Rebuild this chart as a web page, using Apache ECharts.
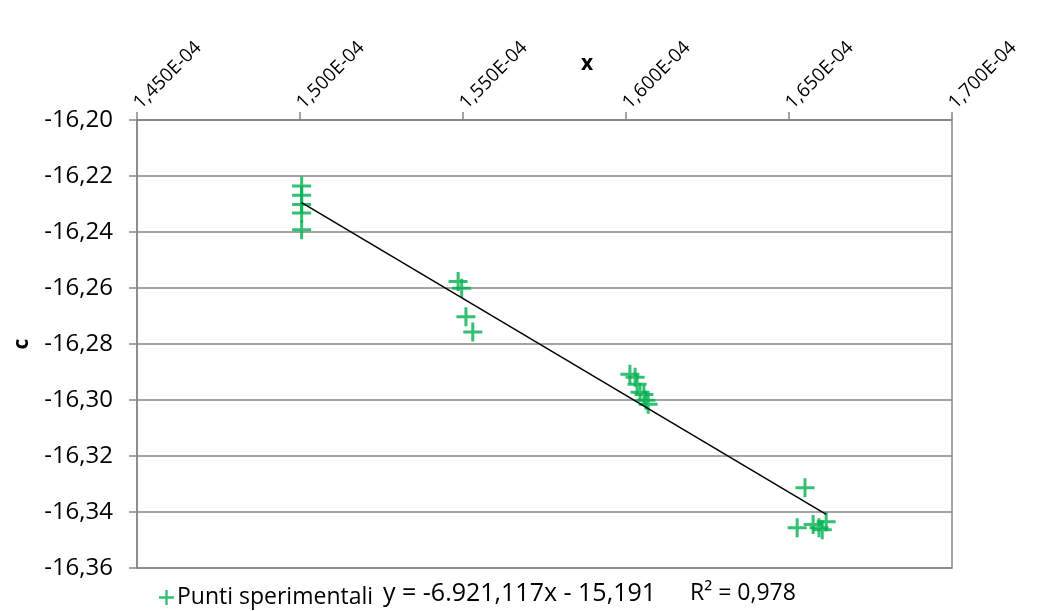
<!DOCTYPE html>
<html>
<head>
<meta charset="utf-8">
<script src="https://cdn.jsdelivr.net/npm/echarts@6/dist/echarts.min.js"></script>
<style>
  html, body { margin: 0; padding: 0; background: #fff; }
  #chart { width: 1040px; height: 611px; }
</style>
</head>
<body>
<div id="chart"></div>
<script>
// Experimental points (x, c)
const xValues = [
  1.5005e-4, 1.5005e-4, 1.5005e-4, 1.5005e-4, 1.5005e-4,
  1.5485e-4, 1.5496e-4, 1.5509e-4, 1.5530e-4,
  1.6012e-4, 1.6028e-4, 1.6034e-4, 1.6043e-4, 1.6055e-4, 1.6061e-4, 1.6068e-4,
  1.6549e-4, 1.6525e-4, 1.6574e-4, 1.6592e-4, 1.6602e-4, 1.6614e-4
];
const cValues = [
  -16.2236, -16.2269, -16.2302, -16.2332, -16.2392,
  -16.2577, -16.2601, -16.2703, -16.2757,
  -16.2908, -16.2919, -16.2944, -16.2972, -16.2980, -16.3001, -16.3015,
  -16.3313, -16.3456, -16.3445, -16.3456, -16.3463, -16.3435
];

// Linear fit as reported in the equation label
const slope = -6921.117;
const intercept = -15.191;
const fitText = 'y = -6.921,117x - 15,191';
const r2Text = 'R\u00B2 = 0,978';

// Axis ranges
const xMin = 1.45e-4, xMax = 1.70e-4, xStep = 5e-6;
const yMin = -16.36, yMax = -16.20, yStep = 0.02;

const seriesName = 'Punti sperimentali';
const green = '#00b050';
const grey = '#868686';
const font = 'Open Sans';

const points = xValues.map((x, i) => [x, cValues[i]]);
const fitX = [Math.min(...xValues), Math.max(...xValues)];
const fitLine = fitX.map(x => [x, slope * x + intercept]);

const crossPath = 'path://M8,0H11V8H19V11H11V19H8V11H0V8H8Z';

const chart = echarts.init(document.getElementById('chart'), null, { renderer: 'canvas' });
chart.setOption({
  animation: false,
  backgroundColor: '#ffffff',
  grid: {
    left: 137, right: 88, top: 120, bottom: 43,
    containLabel: false,
    outerBoundsMode: 'none',
    show: true, borderColor: grey, borderWidth: 1.5, backgroundColor: 'transparent'
  },
  xAxis: {
    type: 'value',
    position: 'top',
    min: xMin, max: xMax, interval: xStep,
    axisLine: { show: true, lineStyle: { color: grey, width: 1.5 } },
    axisTick: { show: true, inside: false, length: 8, lineStyle: { color: grey, width: 1.5 } },
    splitLine: { show: false },
    axisLabel: {
      rotate: -45,
      margin: 14,
      color: '#000',
      fontFamily: font,
      fontSize: 19,
      formatter: v => (v * 1e4).toFixed(3).replace('.', ',') + 'E-04'
    }
  },
  yAxis: {
    type: 'value',
    min: yMin, max: yMax, interval: yStep,
    name: 'c',
    nameLocation: 'middle',
    nameGap: 104,
    nameTextStyle: { color: '#000', fontFamily: font, fontSize: 21, fontWeight: 'bold' },
    axisLine: { show: true, lineStyle: { color: grey, width: 1.5 } },
    axisTick: { show: true, inside: false, length: 8, lineStyle: { color: grey, width: 1.5 } },
    splitLine: { show: true, lineStyle: { color: grey, width: 1.5 } },
    axisLabel: {
      margin: 24,
      color: '#000',
      fontFamily: font,
      fontSize: 24,
      formatter: v => v.toFixed(2).replace('.', ',')
    }
  },
  legend: {
    left: 154, top: 581,
    itemWidth: 15, itemHeight: 15,
    data: [{ name: seriesName, icon: crossPath }],
    textStyle: { color: '#000', fontFamily: font, fontSize: 23, padding: [0, 0, 0, -2] }
  },
  graphic: [
    {
      type: 'text', left: 581, top: 54,
      style: { text: 'x', fill: '#000', font: 'bold 21px "' + font + '"' }
    },
    {
      type: 'text', left: 383, top: 581,
      style: { text: fitText, fill: '#000', font: '25px "' + font + '"' }
    },
    {
      type: 'text', left: 690, top: 582,
      style: { text: r2Text, fill: '#000', font: '23px "' + font + '"' }
    }
  ],
  series: [
    {
      name: seriesName,
      type: 'scatter',
      data: points,
      symbol: crossPath,
      symbolSize: 19,
      itemStyle: { color: green },
      z: 3
    },
    {
      name: 'fit',
      type: 'line',
      data: fitLine,
      symbol: 'none',
      lineStyle: { color: '#000', width: 1.5 },
      z: 4
    }
  ]
});
</script>
</body>
</html>
